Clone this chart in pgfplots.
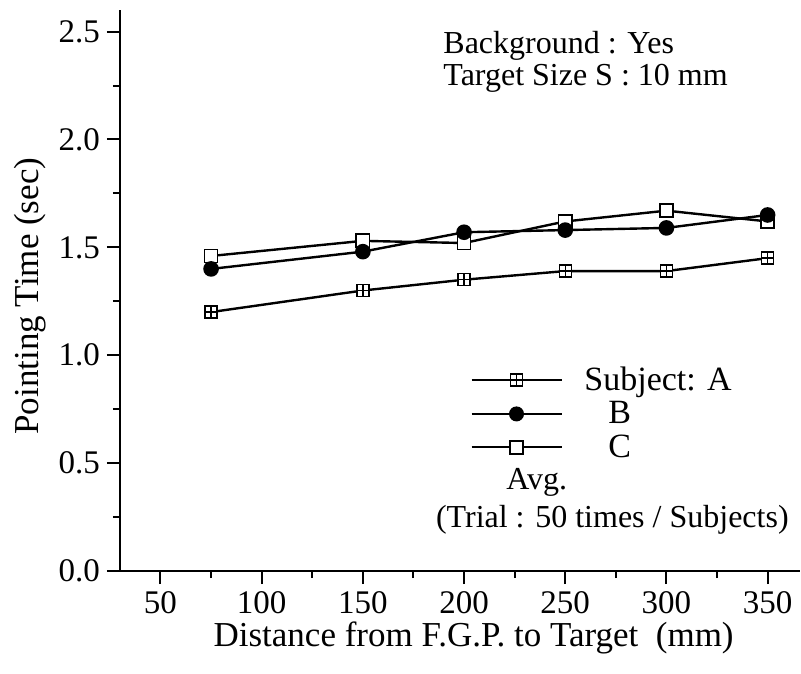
\documentclass[border=0pt]{standalone}
\usepackage{fontspec}
\setmainfont{Liberation Serif}
\usepackage{pgfplots}
\pgfplotsset{compat=1.18}

\pgfdeclareplotmark{boxplus}{%
 \pgfpathrectangle{\pgfqpoint{-\pgfplotmarksize}{-\pgfplotmarksize}}{\pgfqpoint{2\pgfplotmarksize}{2\pgfplotmarksize}}%
 \pgfusepathqfillstroke
 \pgfpathmoveto{\pgfqpoint{-\pgfplotmarksize}{0pt}}\pgfpathlineto{\pgfqpoint{\pgfplotmarksize}{0pt}}%
 \pgfpathmoveto{\pgfqpoint{0pt}{-\pgfplotmarksize}}\pgfpathlineto{\pgfqpoint{0pt}{\pgfplotmarksize}}%
 \pgfusepathqstroke}

\pgfplotstableread{
x y
75 1.20
150 1.30
200 1.35
250 1.39
300 1.39
350 1.45
}\dataA
\pgfplotstableread{
x y
75 1.40
150 1.48
200 1.57
250 1.58
300 1.59
350 1.65
}\dataB
\pgfplotstableread{
x y
75 1.46
150 1.53
200 1.52
250 1.62
300 1.67
350 1.62
}\dataC

\begin{document}
\begin{tikzpicture}
\begin{axis}[
 scale only axis, width=340pt, height=280.5pt,
 xmin=30, xmax=366, ymin=0, ymax=2.6,
 axis lines*=left, axis line style={line width=1.4pt},
 tick align=outside, major tick length=6.5pt, minor tick length=3.5pt,
 every tick/.style={black, line width=1pt},
 xtick={50,100,...,350}, minor xtick={75,125,...,325},
 ytick={0,0.5,...,2.5}, minor ytick={0.25,0.75,...,2.25},
 yticklabel style={/pgf/number format/.cd, fixed, fixed zerofill, precision=1},
 /pgf/number format/assume math mode=true,
 tick label style={font=\fontsize{16.5}{19}\selectfont},
 label style={font=\fontsize{17.5}{21}\selectfont},
 xlabel={Distance from F.G.P. to Target\ \ (mm)},
 ylabel={Pointing Time (sec)},
 xlabel style={at={(axis description cs:0.52,-0.119)}, anchor=center},
 ylabel style={at={(axis description cs:-0.132,0.49)}, anchor=center},
 legend image code/.code={\draw[mark repeat=2,mark phase=2,#1] plot coordinates {(0pt,0pt)(22.5pt,0pt)(45pt,0pt)};},
 legend style={at={(rel axis cs:0.515,0.372)}, anchor=north west, draw=none, fill=none,
   inner sep=0pt, row sep=0pt, font=\fontsize{17}{20}\selectfont},
 legend cell align=left,
 clip=false,
]
\coordinate (bl) at (rel axis cs:0,0);
\coordinate (tr) at (rel axis cs:1,1);
\addlegendimage{black, line width=0.9pt, mark=boxplus, mark size=3pt, mark options={line width=0.7pt, fill=white, solid}}
\addlegendentry{\hspace*{9pt}Subject: A}
\addlegendimage{black, line width=0.9pt, mark=*, mark size=3.3pt}
\addlegendentry{\hspace*{21pt}B}
\addlegendimage{black, line width=0.9pt, mark=square*, mark size=3.3pt, mark options={fill=white, line width=0.8pt}}
\addlegendentry{\hspace*{21pt}C}

\addplot[forget plot, black, line width=1.2pt, mark=boxplus, mark size=3pt, mark options={line width=0.7pt, fill=white, solid}] table {\dataA};
\addplot[forget plot, black, line width=1.2pt, mark=square*, mark size=3.3pt, mark options={fill=white, line width=0.8pt}] table {\dataC};
\addplot[forget plot, black, line width=1.2pt, mark=*, mark size=3.3pt] table {\dataB};

\node[anchor=west, inner sep=0, font=\fontsize{16}{19}\selectfont] at (rel axis cs:0.475,0.936) {Background : Yes};
\node[anchor=west, inner sep=0, font=\fontsize{16}{19}\selectfont] at (rel axis cs:0.475,0.878) {Target Size S : 10 mm};
\node[font=\fontsize{16}{19}\selectfont] at (rel axis cs:0.613,0.158) {Avg.};
\node[font=\fontsize{16}{19}\selectfont] at (rel axis cs:0.724,0.092) {(Trial : 50 times / Subjects)};
\end{axis}
\pgfresetboundingbox
\path[use as bounding box] ([xshift=-60pt,yshift=-51pt]bl) rectangle ([xshift=0.5pt,yshift=5pt]tr);
\end{tikzpicture}
\end{document}
